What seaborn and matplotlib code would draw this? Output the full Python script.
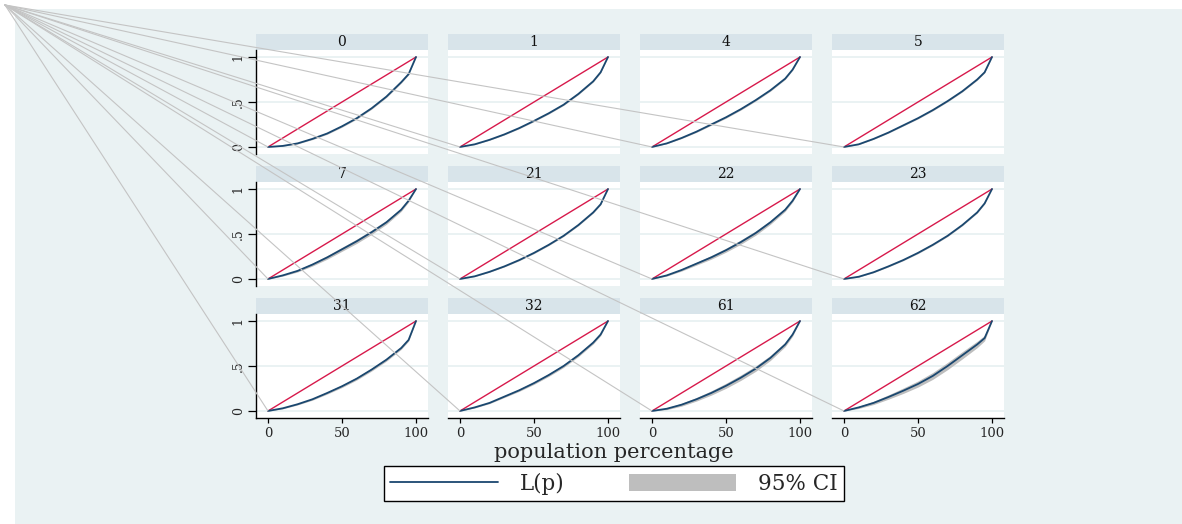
import numpy as np
import pandas as pd
import seaborn as sns
import matplotlib
matplotlib.use("Agg")
import matplotlib.pyplot as plt
from matplotlib.patches import Rectangle, ConnectionPatch
from matplotlib.lines import Line2D
from matplotlib.patches import Patch

# ---------------- data ----------------
panels = ["0", "1", "4", "5", "7", "21", "22", "23", "31", "32", "61", "62"]
p = [0, 10, 20, 30, 40, 50, 60, 70, 80, 90, 95, 100]

L_0 = [0, 0.012, 0.04, 0.09, 0.15, 0.23, 0.32, 0.43, 0.56, 0.72, 0.81, 1]
L_1 = [0, 0.03, 0.08, 0.14, 0.21, 0.29, 0.375, 0.47, 0.59, 0.73, 0.83, 1]
L_4 = [0, 0.04, 0.10, 0.17, 0.25, 0.33, 0.42, 0.52, 0.63, 0.76, 0.86, 1]
L_5 = [0, 0.03, 0.09, 0.16, 0.24, 0.32, 0.41, 0.51, 0.62, 0.75, 0.83, 1]
L_7 = [0, 0.04, 0.09, 0.16, 0.24, 0.33, 0.42, 0.52, 0.63, 0.77, 0.87, 1]
L_21 = [0, 0.03, 0.08, 0.14, 0.21, 0.29, 0.38, 0.48, 0.60, 0.74, 0.83, 1]
L_22 = [0, 0.04, 0.10, 0.17, 0.24, 0.32, 0.41, 0.51, 0.63, 0.77, 0.87, 1]
L_23 = [0, 0.025, 0.075, 0.14, 0.21, 0.29, 0.38, 0.48, 0.60, 0.74, 0.84, 1]
L_31 = [0, 0.03, 0.075, 0.13, 0.20, 0.275, 0.36, 0.46, 0.57, 0.70, 0.79, 1]
L_32 = [0, 0.04, 0.09, 0.16, 0.23, 0.31, 0.40, 0.50, 0.62, 0.76, 0.85, 1]
L_61 = [0, 0.025, 0.07, 0.13, 0.20, 0.28, 0.37, 0.47, 0.59, 0.74, 0.85, 1]
L_62 = [0, 0.04, 0.09, 0.155, 0.225, 0.30, 0.39, 0.50, 0.62, 0.74, 0.81, 1]

# half-width of the 95% confidence band at each p
W_0 = [0, 0.004, 0.006, 0.008, 0.009, 0.010, 0.010, 0.010, 0.010, 0.010, 0.008, 0]
W_1 = [0, 0.004, 0.005, 0.006, 0.007, 0.008, 0.008, 0.008, 0.008, 0.008, 0.007, 0]
W_4 = [0, 0.004, 0.006, 0.008, 0.009, 0.010, 0.010, 0.010, 0.010, 0.009, 0.008, 0]
W_5 = [0, 0.004, 0.005, 0.006, 0.007, 0.008, 0.008, 0.008, 0.008, 0.008, 0.007, 0]
W_7 = [0, 0.008, 0.012, 0.016, 0.020, 0.022, 0.024, 0.024, 0.022, 0.018, 0.014, 0]
W_21 = [0, 0.004, 0.005, 0.006, 0.007, 0.008, 0.008, 0.008, 0.008, 0.008, 0.007, 0]
W_22 = [0, 0.008, 0.012, 0.016, 0.020, 0.022, 0.024, 0.024, 0.022, 0.018, 0.014, 0]
W_23 = [0, 0.004, 0.005, 0.006, 0.007, 0.008, 0.008, 0.008, 0.008, 0.008, 0.007, 0]
W_31 = [0, 0.006, 0.008, 0.010, 0.012, 0.014, 0.015, 0.016, 0.016, 0.015, 0.013, 0]
W_32 = [0, 0.006, 0.008, 0.010, 0.012, 0.014, 0.015, 0.016, 0.016, 0.015, 0.013, 0]
W_61 = [0, 0.010, 0.016, 0.020, 0.024, 0.028, 0.030, 0.030, 0.028, 0.024, 0.018, 0]
W_62 = [0, 0.012, 0.018, 0.024, 0.030, 0.034, 0.038, 0.040, 0.040, 0.036, 0.030, 0]

curves = [L_0, L_1, L_4, L_5, L_7, L_21, L_22, L_23, L_31, L_32, L_61, L_62]
widths = [W_0, W_1, W_4, W_5, W_7, W_21, W_22, W_23, W_31, W_32, W_61, W_62]

yticks = [0, 0.5, 1]
yticklabels = ["0", ".5", "1"]
xticks = [0, 50, 100]
xticklabels = ["0", "50", "100"]
xlabel = "population percentage"
legend_labels = ["L(p)", "95% CI"]

# ---------------- style ----------------
sns.set_theme(style="white")
plt.rcParams["font.family"] = ["DejaVu Serif"]

BG = "#EAF2F3"
STRIP = "#D8E4EA"
NAVY = "#1A476F"
RED = "#D7194B"
BAND = "#BEBEBE"
ART = "#C4C4C4"

W, H = 1182, 524
fig = plt.figure(figsize=(W / 100, H / 100), dpi=100)
fig.patch.set_facecolor("white")
fig.add_artist(Rectangle((15 / W, 0), 1 - 15 / W, 1 - 9 / H, transform=fig.transFigure,
                         facecolor=BG, edgecolor="none", zorder=-10))

ax_w, ax_h = 172, 104
strip_h = 16
axes = []
for i, name in enumerate(panels):
    r, c = divmod(i, 4)
    left = 256 + 192 * c
    top = 50 + 132 * r
    ax = fig.add_axes([left / W, 1 - (top + ax_h) / H, ax_w / W, ax_h / H])
    ax.set_facecolor("white")
    ax.set_xlim(-8.1, 108.1)
    ax.set_ylim(-0.078, 1.078)
    for yv in yticks:
        ax.axhline(yv, color=BG, lw=1.4, zorder=0)

    lo = np.array(curves[i]) - np.array(widths[i])
    hi = np.array(curves[i]) + np.array(widths[i])
    ax.fill_between(p, lo, hi, color=BAND, lw=0, zorder=1)
    sns.lineplot(x=[p[0], p[-1]], y=[0, 1], ax=ax, color=RED, lw=1.0, zorder=2)
    sns.lineplot(x=p, y=curves[i], ax=ax, color=NAVY, lw=1.3, zorder=3)

    # strip header
    ax.add_patch(Rectangle((0, 1), 1, strip_h / ax_h, transform=ax.transAxes,
                           facecolor=STRIP, edgecolor="none", clip_on=False))
    ax.text(0.5, 1 + strip_h / ax_h / 2, name, transform=ax.transAxes,
            ha="center", va="center", fontsize=10, color="#111111")

    for s in ax.spines.values():
        s.set_visible(False)
    ax.set_xlabel("")
    ax.set_ylabel("")
    if c == 0:
        ax.spines["left"].set_visible(True)
        ax.spines["left"].set_color("black")
        ax.spines["left"].set_linewidth(1.0)
        ax.set_yticks(yticks)
        ax.set_yticklabels(yticklabels, rotation=90, va="center", fontsize=9)
        ax.tick_params(axis="y", length=6, width=0.9, pad=2, color="black", left=True)
    else:
        ax.set_yticks([])
    if r == 2:
        ax.spines["bottom"].set_visible(True)
        ax.spines["bottom"].set_color("black")
        ax.spines["bottom"].set_linewidth(1.0)
        ax.set_xticks(xticks)
        ax.set_xticklabels(xticklabels, fontsize=9.5)
        ax.tick_params(axis="x", length=3.5, width=0.9, pad=3, color="black", bottom=True)
    else:
        ax.set_xticks([])
    ax.grid(False)
    axes.append(ax)

# stray connector lines from the top-left corner to each panel origin
for ax in axes:
    con = ConnectionPatch(xyA=(5 / W, 1 - 5 / H), coordsA=fig.transFigure,
                          xyB=(p[0], 0), coordsB=ax.transData,
                          arrowstyle="-", color=ART, lw=0.8, zorder=5)
    fig.add_artist(con)

fig.text(614 / W, 1 - 452 / H, xlabel, ha="center", va="center", fontsize=15)

handles = [Line2D([0], [0], color=NAVY, lw=1.3),
           Patch(facecolor=BAND, edgecolor="none")]
leg = fig.legend(handles, legend_labels, loc="center", ncol=2,
                 bbox_to_anchor=(614 / W, 1 - 483.5 / H), frameon=True, fancybox=False,
                 framealpha=1, fontsize=15.5, handlelength=5.0, handleheight=0.85,
                 handletextpad=1.0, columnspacing=3.0, borderpad=0.3, borderaxespad=0,
                 edgecolor="black")
leg.get_frame().set_linewidth(1.0)
leg.get_frame().set_facecolor("white")

fig.savefig("out.png", dpi=100, facecolor=fig.get_facecolor())
